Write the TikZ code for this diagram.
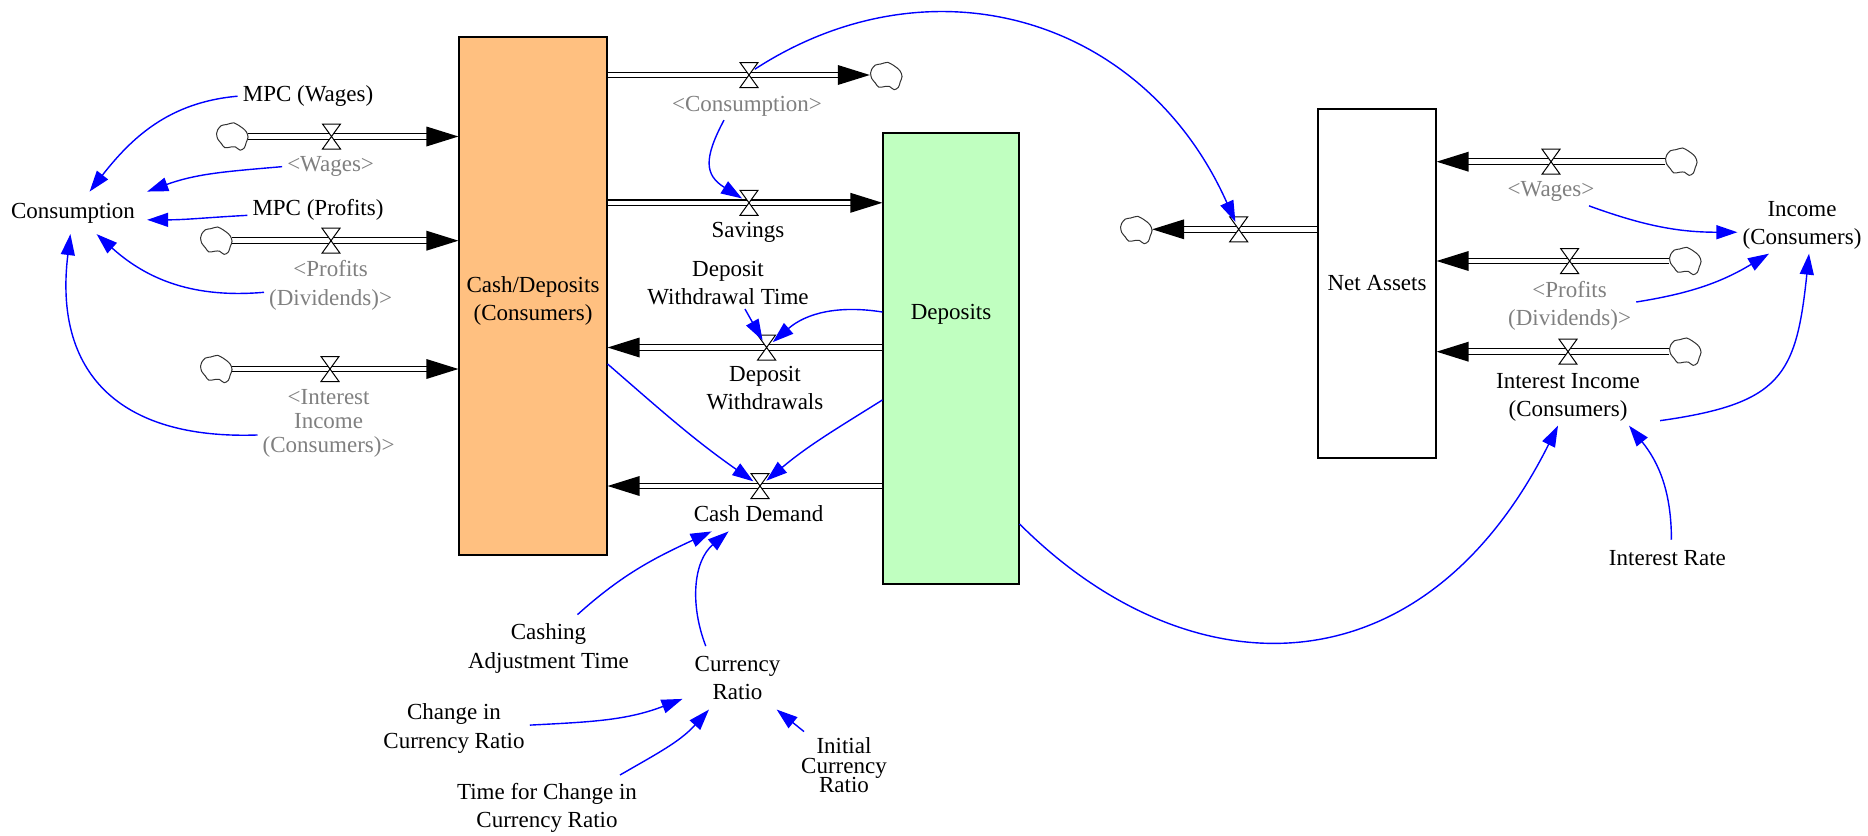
\documentclass[tikz,border=0pt]{standalone}
\usepackage{fontspec}
\setmainfont{Liberation Serif}
\usetikzlibrary{arrows.meta}
\definecolor{cashfill}{RGB}{255,192,128}
\definecolor{depfill}{RGB}{192,255,192}
\definecolor{linkblue}{RGB}{0,0,255}
\definecolor{shadowtext}{RGB}{128,128,128}
\newcommand\tightlines{\rmfamily\fontsize{23}{19.5}\selectfont\lineskiplimit=-30pt\relax}
\tikzset{
  lbl/.style={inner xsep=5pt, inner ysep=4pt, align=center, font=\rmfamily\fontsize{23}{28.5}\selectfont},
  ghost/.style={lbl, text=shadowtext},
  stock/.style={draw=black, line width=1.2pt, inner sep=0pt},
  pipe/.style={draw=black, line width=1.2pt, double=white, double distance=4.5pt},
  cloudnode/.style={rectangle, inner sep=0pt, minimum width=32pt, minimum height=27pt},
  cloudline/.style={draw=black!80, line width=1pt, fill=white},
  valvecore/.style={circle, inner sep=0pt, minimum size=16pt},
  valveshape/.style={draw=black, line width=1pt, fill=white, line join=miter},
  link/.style={draw=linkblue, line width=1.4pt, -{Triangle[length=21pt,width=14pt]}},
  flowhead/.pic={\fill[black] (0,0) -- (-32,10) -- (-32,-10) -- cycle;}
}
% hourglass glyph of a rate valve, drawn around its core node
\newcommand\valveglyph[1]{%
  \draw[valveshape] ([shift={(-9,12.5)}]#1.center) -- ++(18,0) -- ++(-18,-25) -- ++(18,0) -- cycle;}
% wavy outline of a source or sink, drawn around its node
\newcommand\cloudglyph[1]{%
  \draw[cloudline, shift={(#1.center)}, scale=1.07] plot[smooth cycle, tension=0.55] coordinates {
    (-13.4,6.2) (-10,10.2) (-5,11.2) (-1.7,12.2) (1.6,12.8) (6.6,10.2) (10,7.8)
    (13.3,4.5) (15,-0.5) (13.3,-5.5) (11.6,-10.5) (7.6,-12.8) (3.3,-9.8)
    (-1,-9.8) (-6.7,-10.5) (-10,-6.5) (-13.4,-2.2) (-14.4,2.8)};}

\begin{document}
\begin{tikzpicture}[x=1pt, y=1pt]
\useasboundingbox (0,0) rectangle (1868,-835);

% ---- stocks
\node[stock, fill=cashfill, minimum width=148pt, minimum height=518pt] (cash) at (533,-296) {};
\node[stock, fill=depfill, minimum width=136pt, minimum height=451pt] (dep) at (951,-358.5) {};
\node[stock, fill=white, minimum width=118pt, minimum height=349pt] (na) at (1377,-283.5) {};

% ---- sources and sinks
\node[cloudnode] (cwl) at (232,-136.5) {};
\node[cloudnode] (cpl) at (216,-240.7) {};
\node[cloudnode] (cil) at (216,-369) {};
\node[cloudnode] (cco) at (886,-76) {};
\node[cloudnode] (cnao) at (1136,-230) {};
\node[cloudnode] (cwr) at (1681,-161.7) {};
\node[cloudnode] (cpr) at (1685,-261) {};
\node[cloudnode] (cir) at (1685,-351.7) {};

% ---- valve cores
\node[valvecore] (vwl) at (331.5,-136.5) {};
\node[valvecore] (vpl) at (331,-240.7) {};
\node[valvecore] (vil) at (330,-369) {};
\node[valvecore] (vcons) at (749,-75) {};
\node[valvecore] (vsav) at (749,-202.8) {};
\node[valvecore] (vdw) at (766.6,-347.5) {};
\node[valvecore] (vcd) at (760,-486) {};
\node[valvecore] (vnao) at (1238.7,-229.3) {};
\node[valvecore] (vwr) at (1551,-161.7) {};
\node[valvecore] (vpr) at (1569.6,-261) {};
\node[valvecore] (vir) at (1568,-351.7) {};

% ---- pipes
\draw[pipe, shorten >=30pt] (cwl.east) -- (cwl.east -| cash.west);
\pic at (cwl.east -| cash.west) {flowhead};
\draw[pipe, shorten >=30pt] (cpl.east) -- (cpl.east -| cash.west);
\pic at (cpl.east -| cash.west) {flowhead};
\draw[pipe, shorten >=30pt] (cil.east) -- (cil.east -| cash.west);
\pic at (cil.east -| cash.west) {flowhead};

\draw[pipe, shorten >=30pt] (cash.east |- vcons) -- (cco.west |- vcons);
\pic at (cco.west |- vcons) {flowhead};
\draw[pipe, shorten >=30pt] (cash.east |- vsav) -- (dep.west |- vsav);
\pic at (dep.west |- vsav) {flowhead};
\draw[pipe, shorten >=30pt] (dep.west |- vdw) -- (cash.east |- vdw);
\pic[rotate=180] at (cash.east |- vdw) {flowhead};
\draw[pipe, shorten >=30pt] (dep.west |- vcd) -- (cash.east |- vcd);
\pic[rotate=180] at (cash.east |- vcd) {flowhead};

\draw[pipe, shorten >=30pt] (na.west |- vnao) -- (cnao.east |- vnao);
\pic[rotate=180] at (cnao.east |- vnao) {flowhead};
\draw[pipe, shorten >=30pt] (cwr.west) -- (cwr.west -| na.east);
\pic[rotate=180] at (cwr.west -| na.east) {flowhead};
\draw[pipe, shorten >=30pt] (cpr.west) -- (cpr.west -| na.east);
\pic[rotate=180] at (cpr.west -| na.east) {flowhead};
\draw[pipe, shorten >=30pt] (cir.west) -- (cir.west -| na.east);
\pic[rotate=180] at (cir.west -| na.east) {flowhead};

% ---- clouds and valves
\cloudglyph{cwl}\cloudglyph{cpl}\cloudglyph{cil}\cloudglyph{cco}
\cloudglyph{cnao}\cloudglyph{cwr}\cloudglyph{cpr}\cloudglyph{cir}
\valveglyph{vwl}\valveglyph{vpl}\valveglyph{vil}
\valveglyph{vcons}\valveglyph{vsav}\valveglyph{vdw}\valveglyph{vcd}
\valveglyph{vnao}\valveglyph{vwr}\valveglyph{vpr}\valveglyph{vir}

% ---- labels
\node[lbl, anchor=base, inner xsep=12pt, inner ysep=11pt] (cons) at (73,-218) {Consumption};
\node[lbl, anchor=base] (mpcw) at (308,-101.7) {MPC (Wages)};
\node[ghost, anchor=base] (gwl) at (330.6,-171.7) {<Wages>};
\node[lbl, anchor=base] (mpcp) at (318,-215) {MPC (Profits)};
\node[ghost, anchor=north] (gpl) at (330.6,-256.3) {<Profits\\(Dividends)>};
\node[ghost, anchor=north, font=\rmfamily\fontsize{23}{24}\selectfont] (gil) at (328.6,-384.8) {<Interest\\Income\\(Consumers)>};

\node[lbl, anchor=north] (cashlbl) at (533,-272) {Cash/Deposits\\(Consumers)};
\node[lbl, anchor=base] (deplbl) at (951,-319.3) {Deposits};
\node[lbl, anchor=base] (nalbl) at (1377,-290.7) {Net Assets};

\node[ghost, anchor=base] (gcons) at (747,-111) {<Consumption>};
\node[lbl, anchor=base] (sav) at (748,-237) {Savings};
\node[lbl, anchor=north] (dwt) at (728,-256.6) {Deposit\\Withdrawal Time};
\node[lbl, anchor=north] (dw) at (765,-361.8) {Deposit\\Withdrawals};
\node[lbl, anchor=base, inner ysep=10pt] (cd) at (758.6,-521) {Cash Demand};

\node[lbl, anchor=north] (cat) at (548.5,-619.6) {Cashing\\Adjustment Time};
\node[lbl, anchor=north, inner xsep=12pt, inner ysep=10pt, font=\rmfamily\fontsize{23}{27.6}\selectfont] (cr) at (737.5,-646.1) {Currency\\Ratio};
\node[lbl, anchor=north] (ccr) at (454,-699.6) {Change in\\Currency Ratio};
\node[lbl, anchor=north] (tfc) at (547,-778.6) {Time for Change in\\Currency Ratio};
\node[lbl, anchor=north, font=\tightlines] (icr) at (844,-733.6) {Initial\\Currency\\Ratio};

\node[ghost, anchor=base] (gwr) at (1551,-196.7) {<Wages>};
\node[ghost, anchor=north] (gpr) at (1569.6,-277) {<Profits\\(Dividends)>};
\node[lbl, anchor=north] (iic) at (1568,-368.8) {Interest Income\\(Consumers)};
\node[lbl, anchor=north] (inc) at (1802,-196.8) {Income\\(Consumers)};
\node[lbl, anchor=base] (ir) at (1667.4,-565) {Interest Rate};

% ---- information links
\draw[link] (mpcw.west) to[out=185, in=52] (cons);
\draw[link] (gwl.west) to[out=185, in=20] (cons.north east);
\draw[link] ([yshift=-6pt]mpcp.west) to[out=183, in=0] ([yshift=-7pt]cons.east);
\draw[link] ([yshift=-7pt]gpl.west) to[out=185, in=-42] (cons);
\draw[link] ([yshift=-12pt]gil.west) to[out=182, in=-97, looseness=1.3] (cons);

\draw[link] (vcons.45) to[out=33, in=114, out distance=210pt, in distance=225pt] (vnao);
\draw[link] ([xshift=-23pt]gcons.south) to[out=242, in=148, looseness=1.4] (vsav);
\draw[link] ([xshift=17pt]dwt.south) -- (vdw);
\draw[link] ([yshift=46.5pt]dep.west) to[out=171, in=41] (vdw);
\draw[link] ([yshift=-68pt]cash.east) to[out=-41, in=145] (vcd);
\draw[link] ([yshift=-41.5pt]dep.west) to[out=212, in=40] (vcd);

\draw[link] ([xshift=29pt,yshift=5pt]cat.north) to[out=42, in=205] ([xshift=-47pt]cd.south);
\draw[link] (cr.135) to[out=111, in=220] ([xshift=-30pt]cd.south);
\draw[link] ([yshift=3.4pt]ccr.east) to[out=3, in=201] (cr);
\draw[link] ([xshift=73pt,yshift=3.6pt]tfc.north) to[out=30, in=228] (cr);
\draw[link] ([xshift=8pt,yshift=2pt]icr.north west) -- (cr.-39);

\draw[link] ([yshift=-165.5pt]dep.east) to[out=-45, in=243.4, out distance=240pt, in distance=302pt] ([xshift=-10pt]iic.south);
\draw[link] ([xshift=38pt]gwr.south) to[out=-20, in=180] ([yshift=-7pt]inc.west);
\draw[link] ([yshift=4pt]gpr.east) to[out=9, in=211] ([xshift=-33pt]inc.south);
\draw[link] ([xshift=15pt,yshift=5pt]iic.south east) to[out=8, in=264, looseness=1.4] ([xshift=7pt]inc.south);
\draw[link] ([xshift=4pt,yshift=6pt]ir.north) to[out=90, in=-51] ([xshift=61pt]iic.south);
\end{tikzpicture}
\end{document}
